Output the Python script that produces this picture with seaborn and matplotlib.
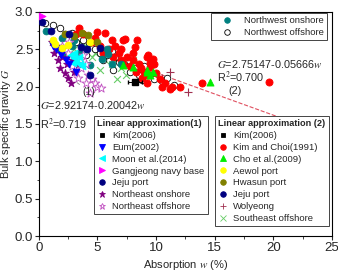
import matplotlib
matplotlib.use("Agg")
import matplotlib.pyplot as plt
import seaborn as sns
import numpy as np
import pandas as pd

# === Datos (w = absorcion %, G = gravedad especifica) ===
kim2006_w = [8.2]
kim2006_g = [2.06]

eum_w = [1.2, 1.5, 1.9, 2.3, 2.6, 3.2]
eum_g = [2.55, 2.50, 2.42, 2.36, 2.30, 2.20]

moon_w = [2.7, 3.0, 3.2, 3.5, 3.7, 3.0, 3.4, 2.9]
moon_g = [2.42, 2.38, 2.33, 2.30, 2.28, 2.45, 2.40, 2.32]

gangjeong_w = [0.25]
gangjeong_g = [2.94]

jeju_w = [0.3, 1.0, 2.6, 3.6, 4.1, 4.4, 5.2]
jeju_g = [2.86, 2.75, 2.70, 2.53, 2.50, 2.15, 2.52]

ne_on_w = [1.3, 1.6, 1.8, 2.0, 2.2, 2.5, 2.4, 2.8, 1.5, 1.1, 3.0, 2.7, 3.3, 2.0]
ne_on_g = [2.45, 2.35, 2.25, 2.40, 2.18, 2.12, 2.30, 2.35, 2.55, 2.60, 2.20, 2.05, 2.30, 2.50]

ne_off_w = [2.0, 2.5, 3.0, 3.2, 3.6, 3.5, 4.0, 4.2, 4.5, 4.8, 5.0, 4.0, 3.8, 2.8, 5.3, 4.4, 3.3, 2.6]
ne_off_g = [2.55, 2.45, 2.40, 2.20, 2.25, 2.35, 2.30, 2.15, 2.10, 2.05, 2.00, 2.05, 2.42, 2.28, 1.98, 1.92, 2.12, 2.60]

kimchoi_w = [3.4, 5.0, 5.6, 7.2, 8.4, 8.2, 7.35, 8.0, 9.2, 9.5, 10.5, 9.3, 9.7, 9.5, 9.2,
             11.4, 13.9, 19.6, 11.2, 5.5, 6.0, 6.3, 6.8, 7.0, 7.2, 7.5, 7.8, 8.0, 8.3, 8.5,
             8.7, 9.0, 9.4, 10.0, 10.3, 9.8, 6.5, 7.0, 5.2, 4.5, 4.8, 6.2, 10.8, 9.2, 8.8,
             3.2, 3.8, 12.0]
kimchoi_g = [2.78, 2.73, 2.72, 2.62, 2.62, 2.53, 2.64, 2.45, 2.40, 2.32, 1.99, 2.42, 2.37, 2.26, 2.16,
             1.99, 2.05, 2.06, 1.97, 2.45, 2.50, 2.40, 2.45, 2.35, 2.30, 2.40, 2.28, 2.35, 2.20, 2.30,
             2.25, 2.20, 2.15, 2.18, 2.10, 2.30, 2.55, 2.50, 2.55, 2.60, 2.65, 2.62, 2.05, 2.05, 2.12,
             2.70, 2.70, 2.00]

cho_w = [7.2, 8.0, 9.2, 9.5, 9.2, 9.7, 14.6]
cho_g = [2.29, 2.26, 2.19, 2.16, 2.22, 2.19, 2.06]

aewol_w = [1.2, 1.4, 2.5, 4.4, 2.0]
aewol_g = [2.62, 2.57, 2.56, 2.60, 2.52]

hwasun_w = [3.7, 4.2, 2.2, 5.0, 3.0]
hwasun_g = [2.72, 2.69, 2.70, 2.60, 2.68]

wolyeong_w = [11.2, 12.7, 10.5, 9.0]
wolyeong_g = [2.20, 1.93, 2.12, 2.20]

se_off_w = [3.5, 4.0, 4.8, 5.2, 5.6, 6.2, 6.7, 7.0, 7.4, 8.0, 3.0, 4.5, 6.0]
se_off_g = [2.60, 2.55, 2.45, 2.22, 2.35, 2.30, 2.10, 2.25, 2.15, 2.35, 2.50, 2.40, 2.45]

nw_on_w = [0.6, 1.2, 1.8, 2.3, 2.8, 3.5, 4.4, 5.4, 5.9, 6.2, 5.8, 7.0, 3.0, 2.0, 4.0]
nw_on_g = [2.75, 2.60, 2.50, 2.42, 2.55, 2.45, 2.29, 2.37, 2.44, 2.30, 2.50, 2.30, 2.62, 2.65, 2.50]

nw_off_w = [0.5, 1.2, 1.8, 2.2, 2.8, 3.2, 3.8, 4.3, 4.8, 5.2, 5.8, 6.2, 6.8, 7.3, 7.8, 8.5,
            9.0, 9.8, 10.5, 10.9, 8.2, 6.5, 5.5, 4.0, 11.5, 8.8, 6.3]
nw_off_g = [2.85, 2.82, 2.78, 2.70, 2.72, 2.60, 2.62, 2.58, 2.50, 2.45, 2.42, 2.48, 2.33, 2.30, 2.20, 2.15,
            2.28, 2.10, 2.08, 2.12, 2.25, 2.40, 2.35, 2.42, 2.02, 2.09, 2.22]

# === Estilo ===
sns.set_style("ticks")
plt.rcParams["font.family"] = ["Liberation Sans", "DejaVu Sans"]
plt.rcParams["mathtext.fontset"] = "stix"

fig = plt.figure(figsize=(3.38, 2.71), dpi=100)
ax = fig.add_axes([0.115, 0.129, 0.867, 0.827])

# linea de regresion (2)
w2 = np.linspace(9, 23, 50)
ax.plot(w2, 2.75147 - 0.05666 * w2, ls="--", color="#E05060", lw=0.8, zorder=1)


def puntos(w, g, **kw):
    df = pd.DataFrame({"w": w, "g": g})
    kw.setdefault("s", 24)
    kw.setdefault("linewidth", 0.6)
    return sns.scatterplot(data=df, x="w", y="g", ax=ax, zorder=3, **kw)


puntos(se_off_w, se_off_g, marker="x", color="#66CC66", s=24, linewidth=0.8)
puntos(wolyeong_w, wolyeong_g, marker="+", color="#A03050", s=28, linewidth=0.8)
puntos(nw_off_w, nw_off_g, marker="o", facecolor="white", edgecolor="black", s=22, linewidth=0.6)
puntos(kimchoi_w, kimchoi_g, marker="o", color="#FF0000", edgecolor="#FF0000", s=26)
puntos(nw_on_w, nw_on_g, marker="o", color="#008080", edgecolor="#008080")
puntos(ne_off_w, ne_off_g, marker="*", facecolor="white", edgecolor="#C050C0", s=44, linewidth=0.6)
puntos(ne_on_w, ne_on_g, marker="*", color="#800080", edgecolor="#800080", s=34)
puntos(moon_w, moon_g, marker="<", color="#00FFFF", edgecolor="#00FFFF")
puntos(eum_w, eum_g, marker="v", color="#0000FF", edgecolor="#0000FF")
puntos(aewol_w, aewol_g, marker="o", color="#FFFF00", edgecolor="#FFFF00")
puntos(hwasun_w, hwasun_g, marker="o", color="#808000", edgecolor="#808000")
puntos(jeju_w, jeju_g, marker="o", color="#000080", edgecolor="#000080")
puntos(cho_w, cho_g, marker="^", color="#00EE00", edgecolor="#00EE00", s=26)
puntos(gangjeong_w, gangjeong_g, marker=">", color="#FF00FF", edgecolor="#FF00FF", s=26)
ax.errorbar(kim2006_w, kim2006_g, xerr=0.6, yerr=0.03, fmt="s", color="black",
            ms=4, elinewidth=0.7, capsize=1.5, zorder=4)

# === Ejes ===
ax.set_xlim(0, 25)
ax.set_ylim(0, 3.0)
ax.set_xticks([0, 5, 10, 15, 20, 25])
ax.set_yticks([0.0, 0.5, 1.0, 1.5, 2.0, 2.5, 3.0])
ax.set_yticklabels(["0.0", "0.5", "1.0", "1.5", "2.0", "2.5", "3.0"])
ax.set_xticks(np.arange(2.5, 25, 5), minor=True)
ax.set_yticks(np.arange(0.25, 3.0, 0.5), minor=True)
ax.tick_params(which="major", direction="out", length=3, width=0.8, labelsize=9.5, pad=1)
ax.tick_params(which="minor", direction="out", length=1.8, width=0.6)
for sp in ax.spines.values():
    sp.set_linewidth(0.8)
    sp.set_color("black")
ax.set_xlabel(r"Absorption $w$ (%)", fontsize=8, labelpad=3)
ax.set_ylabel(r"Bulk specific gravity $G$", fontsize=8)
ax.yaxis.set_label_coords(-0.089, 0.5)

# === Textos ===
ax.text(0.1, 1.76, r"$G$=2.92174-0.20042$w$", fontsize=7.8, va="center")
ax.text(0.1, 1.49, r"R$^2$=0.719", fontsize=7.8, va="center")
ax.annotate("(1)", xy=(3.2, 2.06), xytext=(3.75, 1.93), fontsize=7.5, va="center",
            arrowprops=dict(arrowstyle="-", ls="--", color="gray", lw=0.6, shrinkA=0, shrinkB=0))
ax.text(15.2, 2.30, r"$G$=2.75147-0.05666$w$", fontsize=7.8, va="center")
ax.text(15.2, 2.12, r"R$^2$=0.700", fontsize=7.8, va="center")
ax.text(16.2, 1.94, "(2)", fontsize=7.8, va="center")

# === Leyendas ===
def h(marker, fc, ec, ms=4, mew=0.6):
    return plt.Line2D([], [], ls="", marker=marker, markerfacecolor=fc,
                      markeredgecolor=ec, markersize=ms, markeredgewidth=mew)


leg_kw = dict(fontsize=6.8, frameon=True, fancybox=False, framealpha=1, edgecolor="#444444",
              handletextpad=0.5, borderpad=0.35, labelspacing=0.3, handlelength=1.1,
              borderaxespad=0)

h1 = [h("s", "black", "black", 3), h("v", "#0000FF", "#0000FF"), h("<", "#00FFFF", "#00FFFF"),
      h(">", "#FF00FF", "#FF00FF"), h("o", "#000080", "#000080"), h("*", "#800080", "#800080", 5),
      h("*", "white", "#C050C0", 5)]
l1 = ["Kim(2006)", "Eum(2002)", "Moon et al.(2014)", "Gangjeong navy base", "Jeju port",
      "Northeast onshore", "Northeast offshore"]
leg1 = fig.legend(h1, l1, loc="upper left", bbox_to_anchor=(0.278, 0.572),
                  title="Linear approximation(1)", title_fontproperties={"weight": "bold", "size": 6.6},
                  **leg_kw)
leg1.get_frame().set_linewidth(0.7)

h2 = [h("s", "black", "black", 3), h("o", "#FF0000", "#FF0000"), h("^", "#00EE00", "#00EE00"),
      h("o", "#FFFF00", "#FFFF00"), h("o", "#808000", "#808000"), h("o", "#000080", "#000080"),
      h("+", "#A03050", "#A03050", 5), h("x", "#66CC66", "#66CC66", 4)]
l2 = ["Kim(2006)", "Kim and Choi(1991)", "Cho et al.(2009)", "Aewol port", "Hwasun port",
      "Jeju port", "Wolyeong", "Southeast offshore"]
leg2 = fig.legend(h2, l2, loc="upper left", bbox_to_anchor=(0.636, 0.572),
                  title="Linear approximation (2)", title_fontproperties={"weight": "bold", "size": 6.6},
                  **leg_kw)
leg2.get_frame().set_linewidth(0.7)

h3 = [h("o", "#008080", "#008080"), h("o", "white", "black")]
l3 = ["Northwest onshore", "Northwest offshore"]
leg3 = fig.legend(h3, l3, loc="upper right", bbox_to_anchor=(0.967, 0.952),
                  handlelength=2.6, **{k: v for k, v in leg_kw.items() if k != "handlelength"})
leg3.get_frame().set_linewidth(0.7)
for lg in (leg1, leg2, leg3):
    lg._legend_box.align = "left"

fig.savefig("out.png", dpi=100)
